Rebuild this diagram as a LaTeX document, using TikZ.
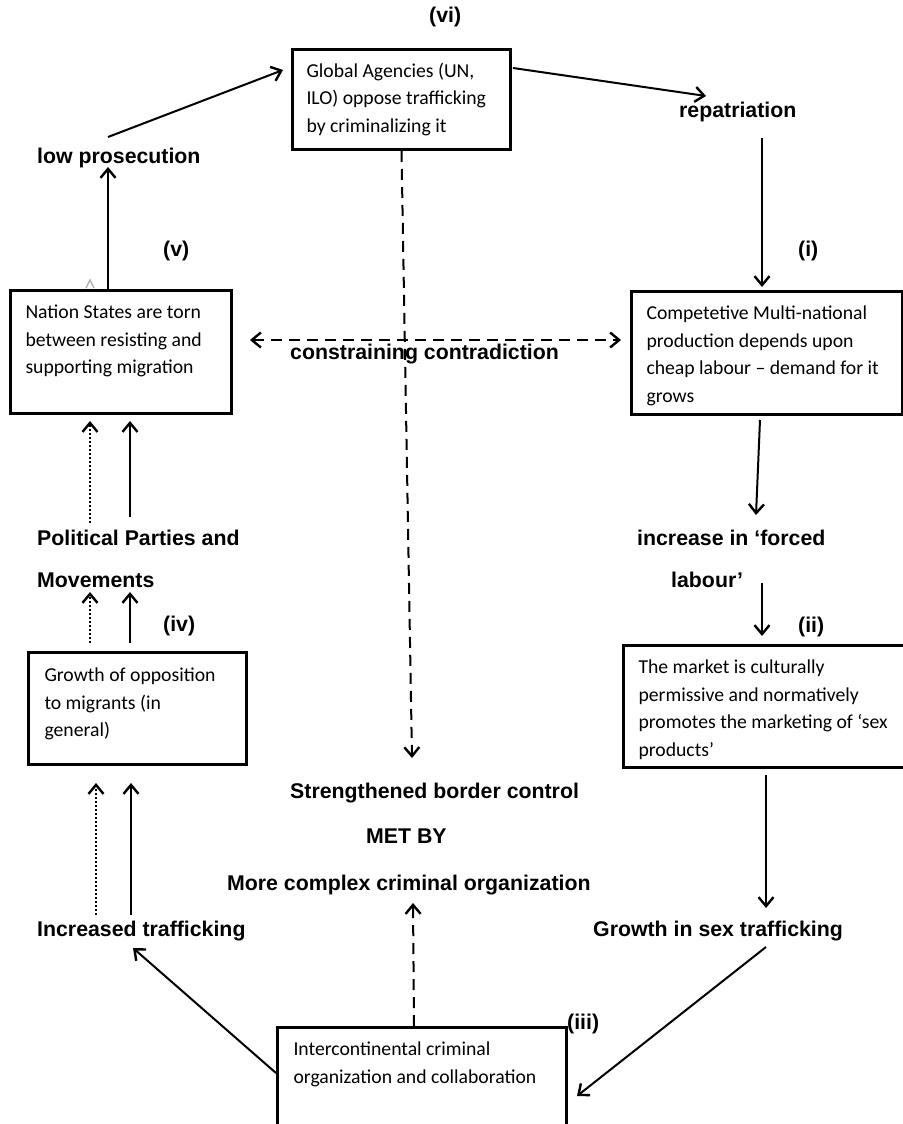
\documentclass[tikz,border=0pt]{standalone}
\usepackage{fontspec}
\setmainfont{Carlito}
\newfontfamily\headfont{Liberation Sans}
\usetikzlibrary{calc,arrows.meta}

\tikzset{
	box/.style={draw, line width=3pt, anchor=north west, align=flush left, inner ysep=0pt, font=\fontsize{19.7}{27.5}\selectfont},
	lbl/.style={inner sep=0pt, anchor=base west, font=\headfont\bfseries\fontsize{21.3}{25}\selectfont},
	arr/.style={->, line width=2pt},
	dsh/.style={line width=2pt, dash pattern=on 11pt off 7pt},
	dotarr/.style={->, line width=2pt, dash pattern=on 2pt off 2pt},
}

\begin{document}
\begin{tikzpicture}[x=1pt, y=-1pt, >={Straight Barb[length=9pt,width=15pt,line width=2.4pt]}]
			\useasboundingbox (0,0) rectangle (902,1124);
			
			%boxes
			\node[box, text width=190pt, inner xsep=14pt, text height=28pt, text depth=72pt] (global) at (291,48) {Global Agencies (UN,\\ILO) oppose trafficking\\by criminalizing it};
			\node[box, text width=191pt, inner xsep=15pt, text height=28pt, text depth=95pt] (nation) at (9,289) {Nation States are torn\\between resisting and\\supporting migration};
			\node[box, text width=241pt, inner xsep=15pt, text height=28pt, text depth=95pt] (comp) at (630,290) {Competetive Multi-national\\production depends upon\\cheap labour – demand for it\\grows};
			\node[box, text width=186pt, inner xsep=16pt, text height=29pt, text depth=83pt] (opp) at (27,651) {Growth of opposition\\to migrants (in\\general)};
			\node[box, text width=260pt, inner xsep=15pt, text height=28pt, text depth=94pt] (market) at (622,644) {The market is culturally\\permissive and normatively\\promotes the marketing of ‘sex\\products’};
			\node[box, text width=257pt, inner xsep=16pt, text height=28pt, text depth=86pt] (inter) at (276,1026) {Intercontinental criminal\\organization and collaboration};
			
			%numbers
			\node[lbl] (n6) at (429,23) {(vi)};
			\node[lbl] (n5) at (163,256) {(v)};
			\node[lbl] (n1) at (798,256) {(i)};
			\node[lbl] (n4) at (163,631) {(iv)};
			\node[lbl] (n2) at (798,632) {(ii)};
			\node[lbl] (n3) at (567,1029) {(iii)};
			
			%labels
			\node[lbl] (lowpros) at (37,163) {low prosecution};
			\node[lbl] (repat) at (679,117) {repatriation};
			\node[lbl] (contra) at (290,359) {constraining contradiction};
			\node[lbl] (parties) at (37,545) {Political Parties and};
			\node[lbl] (movements) at ($(parties.base west)+(0,42)$) {Movements};
			\node[lbl] (forced) at (637,545) {increase in ‘forced};
			\node[lbl] (labour) at ($(forced.base west)+(34,42)$) {labour’};
			\node[lbl] (strength) at (290,798) {Strengthened border control};
			\node[lbl] (metby) at (366,843) {MET BY};
			\node[lbl] (complex) at (227,890) {More complex criminal organization};
			\node[lbl] (increased) at (37,936) {Increased trafficking};
			\node[lbl] (sexgrowth) at (593,936) {Growth in sex trafficking};
			
			%outer cycle
			\draw[arr] ($(nation.north west)+(99,0)$) -- ($(lowpros.base west)+(71,4)$);
			\draw[arr] ($(lowpros.base west)+(71,-26)$) -- ($(global.north west)+(-8,22)$);
			\draw[arr] ($(global.north east)+(1,20)$) -- ($(repat.base west)+(27,-21)$);
			\draw[arr] ($(repat.base west)+(83,21)$) -- ($(comp.north west)+(132,-3)$);
			\draw[arr] ($(comp.south)+(-7,4)$) -- ($(forced.base west)+(119,-30)$);
			\draw[arr] ($(labour.base west)+(91,-4)$) -- ($(market.north west)+(140,-8)$);
			\draw[arr] ($(market.south west)+(144,6)$) -- ($(sexgrowth.base west)+(173,-28)$);
			\draw[arr] ($(sexgrowth.base west)+(173,11)$) -- ($(inter.north east)+(9,70)$);
			\draw[arr] ($(inter.north west)+(0,47)$) -- ($(increased.base west)+(96,12)$);
			
			%left column
			\draw[dotarr] ($(increased.base west)+(59,-21)$) -- ($(opp.south west)+(69,17)$);
			\draw[arr] ($(increased.base west)+(94,-21)$) -- ($(opp.south west)+(104,17)$);
			\draw[dotarr] ($(opp.north west)+(63,-8)$) -- ($(movements.base west)+(53,5)$);
			\draw[arr] ($(opp.north west)+(103,-8)$) -- ($(movements.base west)+(93,5)$);
			\draw[dotarr] ($(parties.base west)+(53,-22)$) -- ($(nation.south west)+(81,6)$);
			\draw[arr] ($(parties.base west)+(93,-28)$) -- ($(nation.south west)+(121,6)$);
			\draw[gray!60, line width=1.5pt] ($(nation.north west)+(77,-1)$) -- ($(nation.north west)+(81,-9)$) -- ($(nation.north west)+(85,-1)$);
			
			%dashed
			\draw[dsh, <->] ($(nation.north east)+(17,51)$) -- ($(comp.north west)+(-9,50)$);
			\draw[dsh, ->] (global.south) -- ($(strength.base west)+(122,-40)$);
			\draw[dsh, ->] ($(inter.north west)+(138,0)$) -- ($(complex.base west)+(186,13)$);
		\end{tikzpicture}
\end{document}
